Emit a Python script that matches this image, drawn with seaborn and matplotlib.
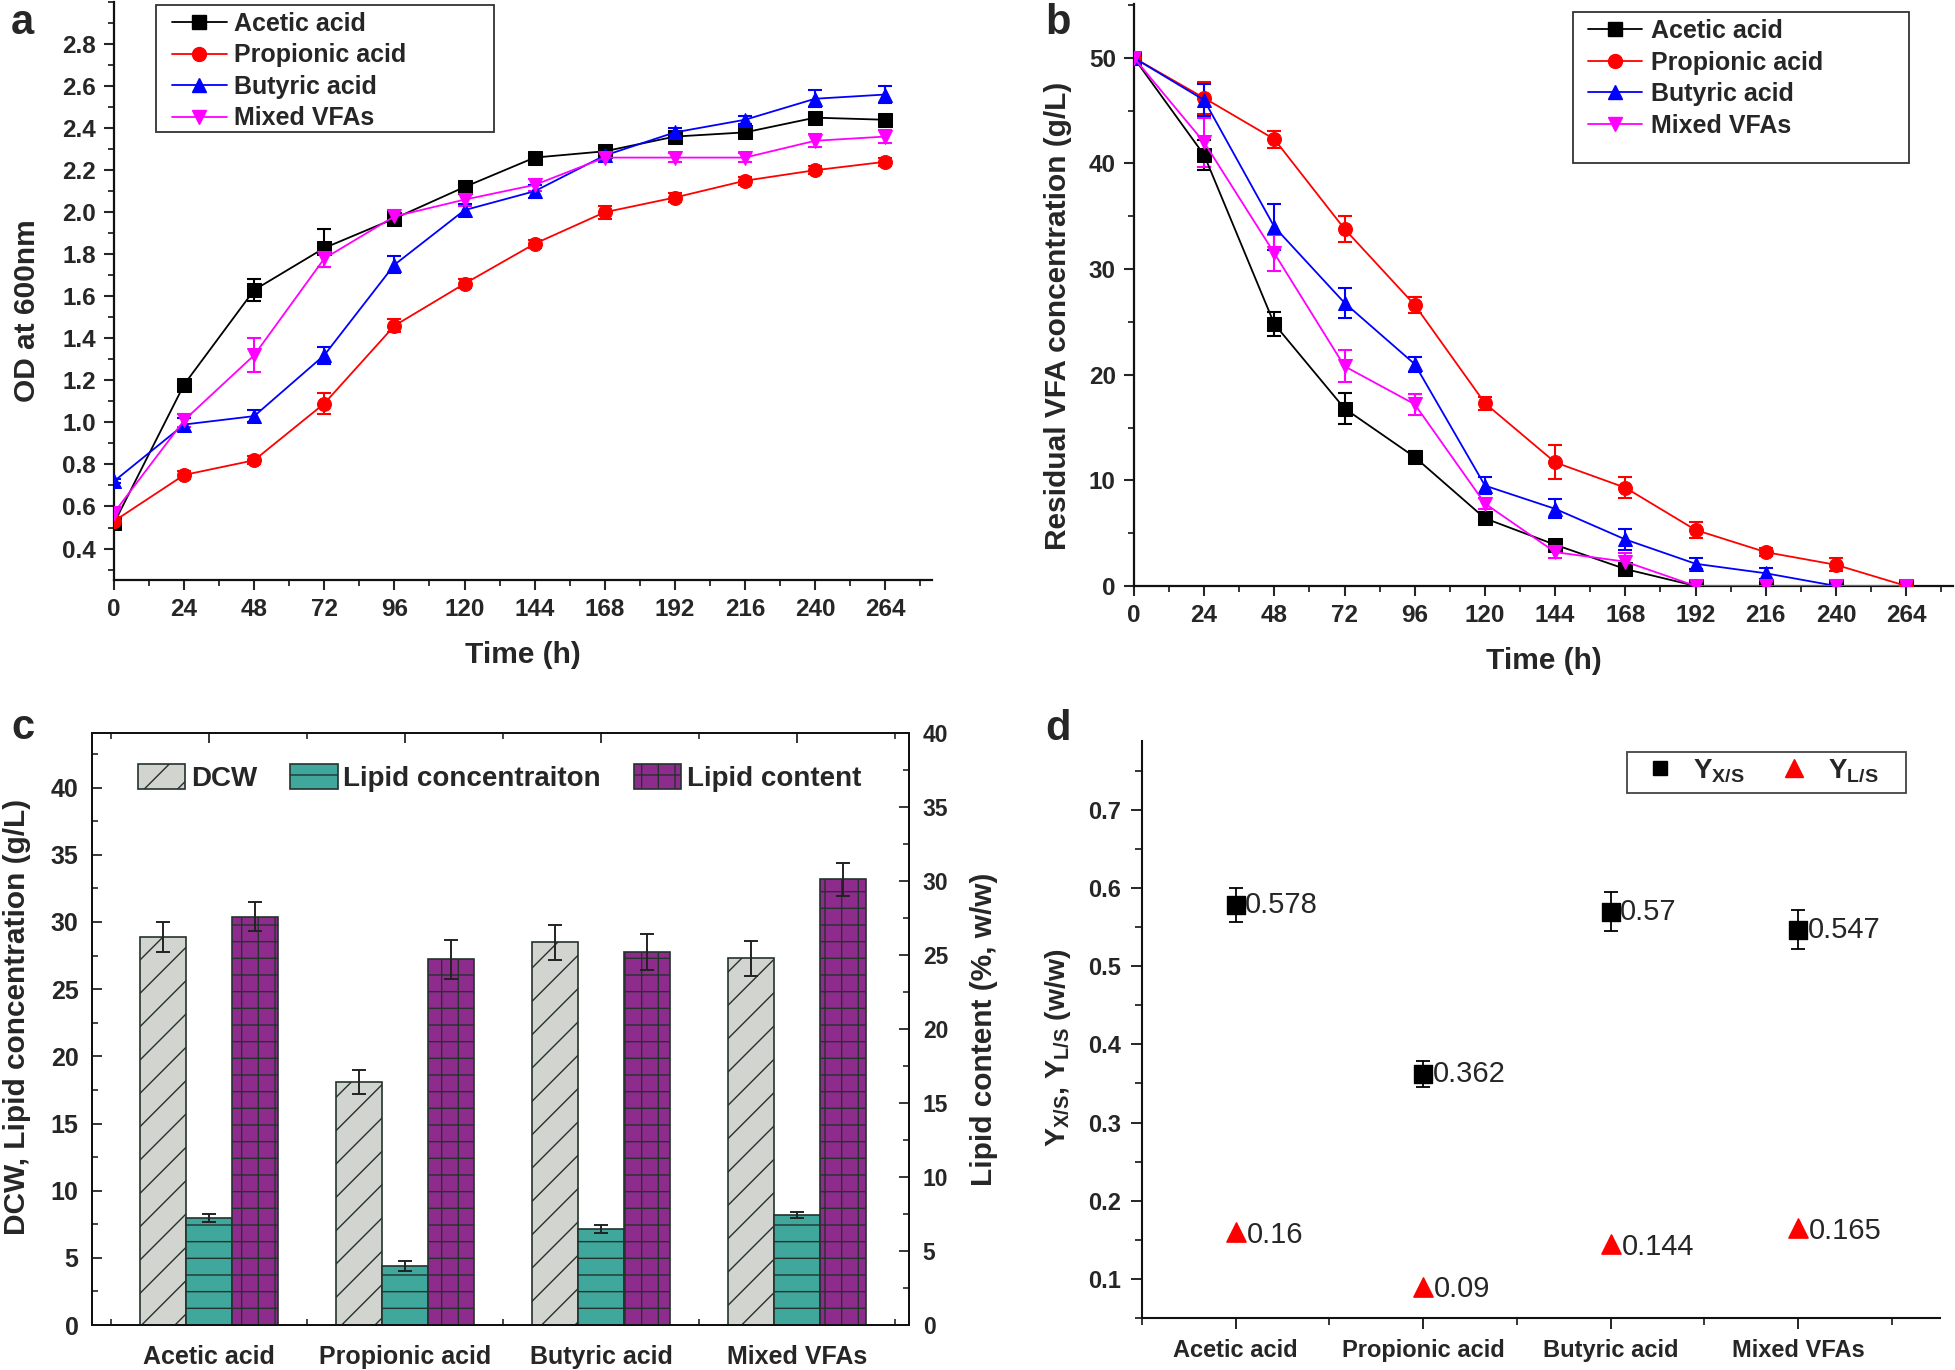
import numpy as np
import matplotlib
matplotlib.use("Agg")
import matplotlib.pyplot as plt
from matplotlib.font_manager import FontProperties
from matplotlib.lines import Line2D
from matplotlib.patches import Patch, Rectangle
from matplotlib.ticker import MultipleLocator
import seaborn as sns

# ---------------------------------------------------------------------------
# data
# ---------------------------------------------------------------------------
time_h = [0, 24, 48, 72, 96, 120, 144, 168, 192, 216, 240, 264]
series = ["Acetic acid", "Propionic acid", "Butyric acid", "Mixed VFAs"]

# (a) OD at 600 nm
od_acetic = [0.52, 1.18, 1.63, 1.83, 1.97, 2.12, 2.26, 2.29, 2.36, 2.38, 2.45, 2.44]
od_acetic_err = [0.02, 0.02, 0.05, 0.09, 0.03, 0.02, 0.02, 0.02, 0.02, 0.02, 0.02, 0.02]
od_propionic = [0.53, 0.75, 0.82, 1.09, 1.46, 1.66, 1.85, 2.00, 2.07, 2.15, 2.20, 2.24]
od_propionic_err = [0.02, 0.02, 0.02, 0.05, 0.03, 0.02, 0.02, 0.03, 0.02, 0.02, 0.02, 0.02]
od_butyric = [0.72, 0.99, 1.03, 1.32, 1.75, 2.01, 2.10, 2.27, 2.38, 2.44, 2.54, 2.56]
od_butyric_err = [0.01, 0.03, 0.03, 0.04, 0.04, 0.03, 0.03, 0.02, 0.02, 0.02, 0.04, 0.04]
od_mixed = [0.57, 1.01, 1.32, 1.78, 1.98, 2.06, 2.13, 2.26, 2.26, 2.26, 2.34, 2.36]
od_mixed_err = [0.02, 0.03, 0.08, 0.04, 0.03, 0.03, 0.03, 0.02, 0.02, 0.02, 0.03, 0.03]

# (b) residual VFA (g/L)
vfa_acetic = [50, 40.8, 24.8, 16.8, 12.2, 6.4, 3.9, 1.6, 0, 0, 0, 0]
vfa_acetic_err = [0.3, 1.4, 1.1, 1.5, 0.6, 0.3, 0.3, 0.5, 0, 0, 0, 0]
vfa_propionic = [50, 46.2, 42.3, 33.8, 26.6, 17.3, 11.7, 9.3, 5.3, 3.2, 2.0, 0]
vfa_propionic_err = [0.3, 1.5, 0.8, 1.2, 0.8, 0.6, 1.6, 1.0, 0.8, 0.4, 0.6, 0]
vfa_butyric = [50, 46.0, 34.0, 26.8, 21.0, 9.5, 7.3, 4.4, 2.1, 1.2, 0, 0]
vfa_butyric_err = [0.3, 1.5, 2.2, 1.4, 0.7, 0.8, 0.9, 1.0, 0.5, 0.5, 0, 0]
vfa_mixed = [50, 42.0, 31.5, 20.8, 17.2, 7.8, 3.2, 2.3, 0, 0, 0, 0]
vfa_mixed_err = [0.3, 2.3, 1.7, 1.5, 1.0, 0.5, 0.6, 0.8, 0, 0, 0, 0]

# (c) biomass and lipid
dcw = [28.9, 18.1, 28.5, 27.3]
dcw_err = [1.1, 0.9, 1.3, 1.3]
lipid_conc = [7.95, 4.4, 7.15, 8.2]
lipid_conc_err = [0.3, 0.35, 0.3, 0.25]
lipid_content = [27.6, 24.7, 25.2, 30.1]
lipid_content_err = [0.95, 1.3, 1.2, 1.1]

# (d) yields
y_xs = [0.578, 0.362, 0.57, 0.547]
y_xs_err = [0.022, 0.017, 0.025, 0.025]
y_ls = [0.16, 0.09, 0.144, 0.165]

colors = ["black", "#FF0000", "#0000FF", "#FF00FF"]
markers = ["s", "o", "^", "v"]

# ---------------------------------------------------------------------------
# style
# ---------------------------------------------------------------------------
sns.set_style("ticks")
plt.rcParams["font.family"] = ["Liberation Sans", "DejaVu Sans"]
plt.rcParams["mathtext.default"] = "regular"
plt.rcParams["hatch.linewidth"] = 1.0

FAM = ["Liberation Sans", "DejaVu Sans"]
tick_fp = FontProperties(family=FAM, weight="bold", size=17.5)
label_fp = FontProperties(family=FAM, weight="bold", size=21.5)
xlabel_fp = FontProperties(family=FAM, weight="bold", size=21.5)
legend_fp = FontProperties(family=FAM, weight="bold", size=18)
annot_fp = FontProperties(family=FAM, size=21)


def style_ticks(ax, fp, axis="both"):
    labels = []
    if axis in ("both", "x"):
        labels += ax.get_xticklabels()
    if axis in ("both", "y"):
        labels += ax.get_yticklabels()
    for lbl in labels:
        lbl.set_fontproperties(fp)


def style_spines(ax, lw=1.6):
    for sp in ax.spines.values():
        sp.set_linewidth(lw)
        sp.set_color("#111111")


def frame_box(ax, x0, y0, x1, y1, ec="#333333"):
    # square legend frame drawn in axes coordinates
    ax.add_patch(Rectangle((x0, y0), x1 - x0, y1 - y0, transform=ax.transAxes,
                           facecolor="white", edgecolor=ec, linewidth=1.3,
                           zorder=5, clip_on=False))


fig = plt.figure(figsize=(19.55, 13.7), dpi=100)

ax_a = fig.add_axes([0.0583, 0.5766, 0.4184, 0.4219])
ax_b = fig.add_axes([0.5800, 0.5723, 0.4190, 0.4248])
ax_c = fig.add_axes([0.0473, 0.0328, 0.4176, 0.4322])
ax_d = fig.add_axes([0.5841, 0.0380, 0.4082, 0.4210])

# ---------------------------------------------------------------------------
# (a) and (b) time courses
# ---------------------------------------------------------------------------
od_sets = [(od_acetic, od_acetic_err), (od_propionic, od_propionic_err),
           (od_butyric, od_butyric_err), (od_mixed, od_mixed_err)]
vfa_sets = [(vfa_acetic, vfa_acetic_err), (vfa_propionic, vfa_propionic_err),
            (vfa_butyric, vfa_butyric_err), (vfa_mixed, vfa_mixed_err)]

line_handles = []
for name, c, m in zip(series, colors, markers):
    line_handles.append(Line2D([0], [0], color=c, marker=m, markersize=10,
                               markeredgecolor=c, linewidth=1.3, label=name))

for ax, sets in [(ax_a, od_sets), (ax_b, vfa_sets)]:
    for name, (vals, errs), c, m in zip(series, sets, colors, markers):
        ax.errorbar(time_h, vals, yerr=errs, fmt="none", ecolor=c,
                    elinewidth=1.5, capsize=5, capthick=1.5, zorder=2)
        sns.lineplot(x=time_h, y=vals, color=c, marker=m, markersize=10,
                     markeredgecolor=c, linewidth=1.3, ax=ax, zorder=3,
                     legend=False)
    sns.despine(ax=ax)
    style_spines(ax)
    ax.set_xlim(0, 280)
    ax.xaxis.set_major_locator(MultipleLocator(24))
    ax.xaxis.set_minor_locator(MultipleLocator(12))
    ax.tick_params(which="major", direction="out", length=7, width=1.5, pad=6)
    ax.tick_params(which="minor", direction="out", length=4, width=1.3)
    ax.set_xlabel("Time (h)", fontproperties=xlabel_fp)

ax_a.set_ylim(0.25, 3.0)
ax_a.set_yticks(np.arange(0.4, 2.81, 0.2))
ax_a.set_yticklabels([f"{v:.1f}" for v in np.arange(0.4, 2.81, 0.2)])
ax_a.yaxis.set_minor_locator(MultipleLocator(0.1))
ax_a.set_ylabel("OD at 600nm", fontproperties=label_fp)
ax_a.yaxis.set_label_coords(-0.089, 0.467)
ax_a.xaxis.set_label_coords(0.5, -0.106)
frame_box(ax_a, 0.0513, 0.775, 0.4645, 0.9948)
leg = ax_a.legend(handles=line_handles, loc="upper left",
                  bbox_to_anchor=(0.0709, 0.983), borderaxespad=0, borderpad=0,
                  prop=legend_fp, frameon=False, handlelength=2.2,
                  handletextpad=0.28, labelspacing=0.3)
leg.set_zorder(6)

ax_b.set_ylim(0, 55.1)
ax_b.yaxis.set_major_locator(MultipleLocator(10))
ax_b.yaxis.set_minor_locator(MultipleLocator(5))
ax_b.set_ylabel("Residual VFA concentration (g/L)", fontproperties=label_fp)
ax_b.yaxis.set_label_coords(-0.075, 0.464)
ax_b.xaxis.set_label_coords(0.5, -0.105)
frame_box(ax_b, 0.536, 0.726, 0.946, 0.986)
leg = ax_b.legend(handles=line_handles, loc="upper left",
                  bbox_to_anchor=(0.5543, 0.974), borderaxespad=0, borderpad=0,
                  prop=legend_fp, frameon=False, handlelength=2.15,
                  handletextpad=0.36, labelspacing=0.3)
leg.set_zorder(6)

style_ticks(ax_a, tick_fp)
style_ticks(ax_b, tick_fp)

# ---------------------------------------------------------------------------
# (c) grouped bars with a second axis for lipid content
# ---------------------------------------------------------------------------
pos = np.arange(len(series))
bw = 0.234
edge = "#24332C"
bar_styles = [("DCW", "#D2D4D0", "/"), ("Lipid concentraiton", "#3FA79B", "-"),
              ("Lipid content", "#8E2C8E", "+")]

ax_c2 = ax_c.twinx()
ax_c.bar(pos - bw, dcw, width=bw, color=bar_styles[0][1], hatch="/",
         edgecolor=edge, linewidth=1.2, zorder=2)
ax_c.bar(pos, lipid_conc, width=bw, color=bar_styles[1][1], hatch="-",
         edgecolor=edge, linewidth=1.2, zorder=2)
ax_c2.bar(pos + bw, lipid_content, width=bw, color=bar_styles[2][1], hatch="+",
          edgecolor=edge, linewidth=1.2, zorder=2)
ax_c.errorbar(pos - bw, dcw, yerr=dcw_err, fmt="none", ecolor="#222222",
              elinewidth=1.4, capsize=5, capthick=1.4, zorder=3)
ax_c.errorbar(pos, lipid_conc, yerr=lipid_conc_err, fmt="none", ecolor="#222222",
              elinewidth=1.4, capsize=5, capthick=1.4, zorder=3)
ax_c2.errorbar(pos + bw, lipid_content, yerr=lipid_content_err, fmt="none",
               ecolor="#222222", elinewidth=1.4, capsize=5, capthick=1.4, zorder=3)

ax_c.set_xlim(-0.594, 3.571)
ax_c.set_ylim(0, 44.07)
ax_c2.set_ylim(0, 40)
ax_c.set_xticks(pos)
ax_c.set_xticklabels(series)
ax_c.xaxis.set_minor_locator(MultipleLocator(0.5))
ax_c.yaxis.set_major_locator(MultipleLocator(5))
ax_c.yaxis.set_minor_locator(MultipleLocator(2.5))
ax_c2.yaxis.set_major_locator(MultipleLocator(5))
ax_c2.yaxis.set_minor_locator(MultipleLocator(2.5))
ax_c.tick_params(which="major", direction="in", length=7, width=1.3,
                 top=True, pad=10)
ax_c.tick_params(which="minor", direction="in", length=4, width=1.2, top=True)
ax_c.tick_params(axis="x", which="major", pad=14)
ax_c.tick_params(axis="y", which="both", right=False)
ax_c2.tick_params(which="major", direction="in", length=7, width=1.3, pad=10)
ax_c2.tick_params(which="minor", direction="in", length=4, width=1.2)
style_spines(ax_c, 1.4)
style_spines(ax_c2, 1.4)
style_ticks(ax_c, FontProperties(family=FAM, weight="bold", size=18))
for lbl in ax_c2.get_yticklabels():
    lbl.set_fontproperties(FontProperties(family=FAM, weight="bold", size=16.5))
ax_c.set_ylabel("DCW, Lipid concentration (g/L)", fontproperties=label_fp)
ax_c.yaxis.set_label_coords(-0.075, 0.52)
ax_c2.set_ylabel("Lipid content (%, w/w)", fontproperties=label_fp)
ax_c2.yaxis.set_label_coords(1.075, 0.5)

patches = [Patch(facecolor=fc, edgecolor=edge, hatch=h, linewidth=1.2, label=lab)
           for lab, fc, h in bar_styles]
ax_c.legend(handles=patches, loc="upper left", bbox_to_anchor=(0.0557, 0.948),
            borderaxespad=0, borderpad=0, ncol=3, frameon=False,
            prop=FontProperties(family=FAM, weight="bold", size=20),
            handlelength=1.7, handleheight=1.0, handletextpad=0.2,
            columnspacing=1.2)

# ---------------------------------------------------------------------------
# (d) yields
# ---------------------------------------------------------------------------
ax_d.errorbar(pos, y_xs, yerr=y_xs_err, fmt="none", ecolor="black",
              elinewidth=1.3, capsize=5, capthick=1.3, zorder=2)
sns.scatterplot(x=pos, y=y_xs, marker="s", s=150, color="black",
                edgecolor="black", ax=ax_d, zorder=3, legend=False)
sns.scatterplot(x=pos, y=y_ls, marker="^", s=190, color="#FF0000",
                edgecolor="#FF0000", ax=ax_d, zorder=3, legend=False)
for x, v in zip(pos, y_xs):
    ax_d.annotate(f"{v:g}", (x, v), xytext=(7, 0), textcoords="offset points",
                  va="center", ha="left", fontproperties=annot_fp)
for x, v in zip(pos, y_ls):
    ax_d.annotate(f"{v:g}", (x, v), xytext=(8, -2), textcoords="offset points",
                  va="center", ha="left", fontproperties=annot_fp)

sns.despine(ax=ax_d)
style_spines(ax_d, 1.5)
ax_d.set_xlim(-0.5, 3.757)
ax_d.set_ylim(0.05, 0.788)
ax_d.set_xticks(pos)
ax_d.set_xticklabels(series)
ax_d.xaxis.set_minor_locator(MultipleLocator(0.5))
ax_d.set_yticks(np.arange(0.1, 0.71, 0.1))
ax_d.set_yticklabels([f"{v:.1f}" for v in np.arange(0.1, 0.71, 0.1)])
ax_d.yaxis.set_minor_locator(MultipleLocator(0.05))
ax_d.tick_params(which="major", direction="out", length=8, width=1.4, pad=7)
ax_d.tick_params(which="minor", direction="out", length=5, width=1.3)
style_ticks(ax_d, FontProperties(family=FAM, weight="bold", size=17))
ax_d.set_ylabel("Y$_{X/S}$, Y$_{L/S}$ (w/w)", fontproperties=
                FontProperties(family=FAM, weight="bold", size=20.5))
ax_d.yaxis.set_label_coords(-0.086, 0.468)

d_handles = [Line2D([0], [0], linestyle="none", marker="s", markersize=10,
                    color="black", label="Y$_{X/S}$"),
             Line2D([0], [0], linestyle="none", marker="^", markersize=13,
                    color="#FF0000", label="Y$_{L/S}$")]
frame_box(ax_d, 0.6078, 0.910, 0.9574, 0.981, ec="#444444")
leg = ax_d.legend(handles=d_handles, loc="upper left",
                  bbox_to_anchor=(0.6285, 0.972), borderaxespad=0, borderpad=0,
                  ncol=2, frameon=False,
                  prop=FontProperties(family=FAM, weight="bold", size=20),
                  handlelength=1.2, handletextpad=0.6, columnspacing=1.17)
leg.set_zorder(6)

# panel letters
for letter, x, y in [("a", 0.0056, 0.975), ("b", 0.5345, 0.975),
                     ("c", 0.0056, 0.4606), ("d", 0.5345, 0.4599)]:
    fig.text(x, y, letter, fontsize=30, fontweight="bold", va="baseline", ha="left")

fig.savefig("out.png", dpi=100)
